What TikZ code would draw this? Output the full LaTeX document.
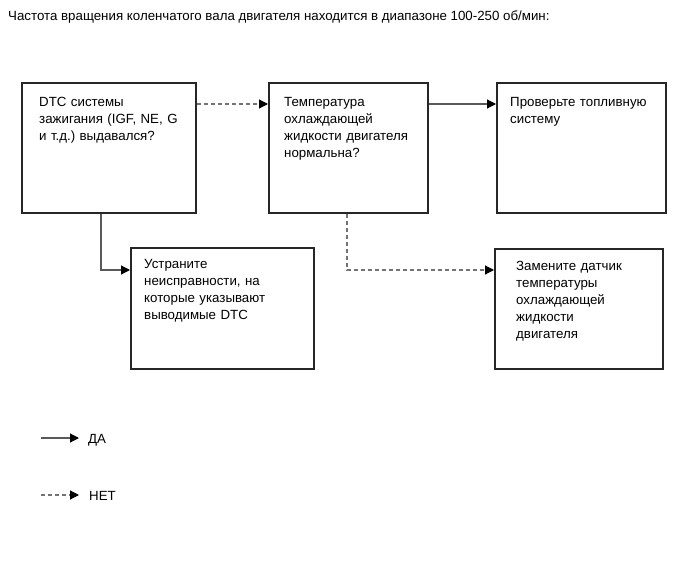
\documentclass[tikz,border=0pt]{standalone}
\usepackage{fontspec}
\setmainfont{Liberation Sans}
\usetikzlibrary{arrows.meta}
\frenchspacing
\begin{document}
\begin{tikzpicture}[x=1pt,y=-1pt,
  box/.style={draw=black!85,line width=1.8pt,rectangle,inner sep=0pt,anchor=north west},
  fnt/.style={font=\fontsize{13.3}{17}\selectfont},
  txt/.style={fnt,anchor=base west,inner sep=0pt,text width=170pt,align=left},
  tip/.style={-{Triangle[length=9pt,width=9pt,color=black]}},
  yesline/.style={tip,draw=black!65,line width=1.2pt},
  noline/.style={tip,draw=black!55,line width=1.2pt,dash pattern=on 4pt off 3pt}]
\useasboundingbox (0,0) rectangle (690,564);
\fill[white] (0,0) rectangle (690,564);

\node[fnt,anchor=base west,inner sep=0pt] (title) at (8,21)
  {Частота вращения коленчатого вала двигателя находится в диапазоне 100-250 об/мин:};

\node[box,minimum width=174pt,minimum height=130pt] (b1) at (21,82) {};
\node[box,minimum width=159pt,minimum height=130pt] (b2) at (268,82) {};
\node[box,minimum width=169pt,minimum height=130pt] (b3) at (496,82) {};
\node[box,minimum width=183pt,minimum height=121pt] (b4) at (130,247) {};
\node[box,minimum width=168pt,minimum height=120pt] (b5) at (494,248) {};

\node[txt] (t1) at (39,107) {DTC системы\\зажигания (IGF, NE, G\\и т.д.) выдавался?};
\node[txt] (t2) at (284,107) {Температура\\охлаждающей\\жидкости двигателя\\нормальна?};
\node[txt] (t3) at (510,107) {Проверьте топливную\\систему};
\node[txt] (t4) at (144,268) {Устраните\\неисправности, на\\которые указывают\\выводимые DTC};
\node[txt] (t5) at (516,270) {Замените датчик\\температуры\\охлаждающей\\жидкости\\двигателя};

\draw[noline] ([yshift=-22pt]b1.north east) -- ([yshift=-22pt]b2.north west);
\draw[yesline] ([yshift=-22pt]b2.north east) -- ([yshift=-22pt]b3.north west);
\draw[yesline] ([xshift=80pt]b1.south west) |- ([yshift=-23pt]b4.north west);
\draw[noline] ([xshift=79pt]b2.south west) |- ([yshift=-22pt]b5.north west);

\coordinate (ys) at (41,438);
\coordinate (ye) at (79,438);
\draw[yesline] (ys) -- (ye);
\node[fnt,anchor=base west,inner sep=0pt] (da) at (88,443) {ДА};
\coordinate (ns) at (41,495);
\coordinate (ne) at (79,495);
\draw[noline] (ns) -- (ne);
\node[fnt,anchor=base west,inner sep=0pt] (net) at (89,500) {НЕТ};
\end{tikzpicture}
\end{document}
